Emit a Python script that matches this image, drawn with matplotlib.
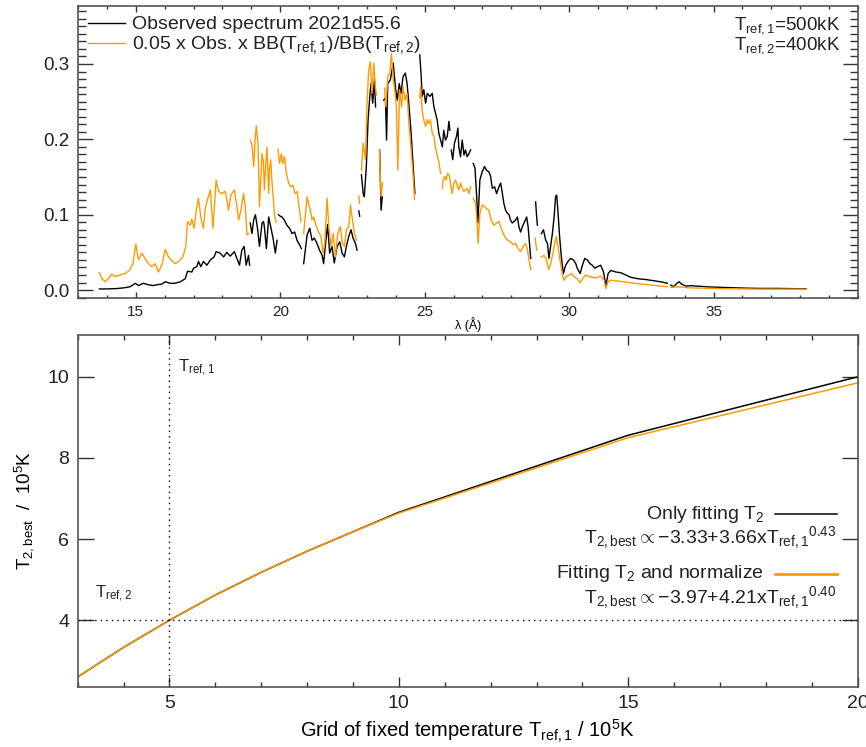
import numpy as np
import matplotlib
matplotlib.use("Agg")
import matplotlib.pyplot as plt
from matplotlib.ticker import MultipleLocator, FormatStrFormatter

nan = np.nan

# Observed spectrum (nan = gap between data chunks)
obs_wave = [13.74, 14.0, 14.34, 14.6, 14.8, 14.99, 15.09, 15.26, 15.44, 15.6, 15.73, 15.9, 16.02, 16.19, 16.35,
            16.54, 16.71, 16.79, 16.94, 17.0, 17.11, 17.17, 17.25, 17.34, 17.46, 17.58, 17.71, 17.78, 17.92, 18.04,
            18.15, 18.27, 18.41, 18.5, 18.59, 18.67, 18.75, 18.82, 18.9, 18.94, nan,
            18.96, 19.02, 19.08, 19.14, 19.22, 19.28, 19.37, 19.42, 19.45, 19.52, 19.6, 19.66, 19.75, 19.83, 19.89, nan,
            19.94, 20.0, 20.06, 20.14, 20.23, 20.32, 20.41, 20.5, 20.58, 20.67, 20.73, nan,
            20.81, 20.93, 21.02, 21.1, 21.18, 21.27, 21.36, 21.45, 21.5, 21.58, 21.64, 21.71, 21.79, 21.87, 21.97,
            22.06, 22.14, 22.22, 22.29, 22.37, 22.45, 22.52, 22.6, 22.66, nan,
            22.72, 22.75, nan,
            22.81, 22.87, 22.91, 22.98, 23.04, 23.1, 23.14, 23.2, 23.26, 23.3, nan,
            23.44, 23.49, 23.53, nan,
            23.58, 23.64, 23.68, 23.72, 23.81, 23.91, 23.99, 24.05, 24.12, 24.18, 24.25, 24.33, 24.39, 24.45, 24.53,
            24.6, 24.66, nan,
            24.83, 24.88, 24.91, 24.97, 25.03, 25.09, 25.18, 25.26, 25.32, 25.37, 25.43, 25.49, 25.55, 25.61, 25.66,
            25.72, 25.78, 25.84, 25.87, nan,
            25.92, 25.97, 26.03, 26.1, 26.15, 26.18, 26.24, 26.3, 26.36, 26.41, 26.47, 26.53, 26.59, nan,
            26.68, 26.74, 26.8, 26.84, 26.91, 26.99, 27.07, 27.14, 27.22, 27.28, 27.34, 27.42, 27.49, 27.57, 27.63,
            27.69, 27.74, 27.8, 27.86, 27.92, 27.97, 28.03, 28.09, 28.15, 28.21, 28.26, 28.32, 28.38, 28.46, 28.53,
            28.58, 28.62, 28.67, nan,
            28.84, 28.87, 28.9, nan,
            29.04, 29.11, 29.19, 29.25, 29.3, 29.36, 29.42, 29.48, 29.53, 29.57, 29.61, 29.67, 29.73, 29.8, 29.88,
            29.96, 30.05, 30.15, 30.23, 30.28, 30.38, 30.46, 30.54, 30.63, 30.72, 30.8, 30.89, 30.98, 31.09, 31.19,
            31.27, 31.35, 31.44, 31.61, 31.79, 31.96, 32.13, 32.31, 32.48, 32.65, 32.83, 33.0, 33.17, 33.4, nan,
            33.52, 33.61, 33.73, 33.81, 33.89, 34.04, 34.21, 34.56, 34.91, 35.37, 35.95, 36.52, 37.22, 37.91, 38.2]
obs_flux = [0.0015, 0.0015, 0.002, 0.003, 0.0044, 0.009, 0.006, 0.009, 0.007, 0.006, 0.007, 0.008, 0.011, 0.009, 0.009,
            0.011, 0.015, 0.025, 0.024, 0.029, 0.031, 0.038, 0.031, 0.038, 0.033, 0.04, 0.044, 0.051, 0.049, 0.044,
            0.05, 0.045, 0.051, 0.042, 0.033, 0.053, 0.058, 0.033, 0.046, 0.033, nan,
            0.089, 0.075, 0.093, 0.1, 0.08, 0.058, 0.089, 0.091, 0.084, 0.055, 0.097, 0.086, 0.069, 0.049, 0.066, nan,
            0.1, 0.098, 0.097, 0.093, 0.086, 0.082, 0.075, 0.077, 0.066, 0.06, 0.055, nan,
            0.035, 0.073, 0.082, 0.066, 0.069, 0.062, 0.053, 0.046, 0.035, 0.066, 0.087, 0.049, 0.058, 0.036, 0.058,
            0.064, 0.049, 0.044, 0.058, 0.071, 0.08, 0.069, 0.062, 0.053, nan,
            0.105, 0.098, nan,
            0.153, 0.128, 0.124, 0.164, 0.226, 0.257, 0.274, 0.248, 0.279, 0.243, nan,
            0.186, 0.106, 0.124, nan,
            0.252, 0.255, 0.199, 0.274, 0.279, 0.301, 0.268, 0.252, 0.274, 0.261, 0.283, 0.288, 0.274, 0.248, 0.208,
            0.164, 0.128, nan,
            0.312, 0.283, 0.257, 0.266, 0.248, 0.261, 0.257, 0.261, 0.243, 0.235, 0.226, 0.208, 0.199, 0.19, 0.212,
            0.199, 0.204, 0.224, 0.212, nan,
            0.186, 0.173, 0.195, 0.204, 0.215, 0.19, 0.177, 0.199, 0.179, 0.186, 0.177, 0.181, 0.186, nan,
            0.168, 0.162, 0.124, 0.089, 0.146, 0.157, 0.164, 0.159, 0.157, 0.151, 0.135, 0.137, 0.128, 0.137, 0.142,
            0.128, 0.115, 0.106, 0.102, 0.1, 0.093, 0.089, 0.091, 0.093, 0.097, 0.084, 0.077, 0.084, 0.091, 0.097,
            0.084, 0.066, 0.042, nan,
            0.117, 0.1, 0.086, nan,
            0.075, 0.08, 0.066, 0.062, 0.042, 0.058, 0.075, 0.097, 0.124, 0.126, 0.106, 0.071, 0.044, 0.022, 0.033,
            0.038, 0.042, 0.04, 0.035, 0.029, 0.022, 0.033, 0.042, 0.04, 0.035, 0.033, 0.029, 0.031, 0.033, 0.024,
            0.006, 0.022, 0.026, 0.024, 0.023, 0.02, 0.017, 0.0155, 0.0146, 0.014, 0.013, 0.012, 0.011, 0.009, nan,
            0.0066, 0.0044, 0.009, 0.011, 0.008, 0.0053, 0.0058, 0.0049, 0.004, 0.0035, 0.0027, 0.0022, 0.0022, 0.0018,
            0.0018]

# 0.05 x Obs. x BB(Tref,1)/BB(Tref,2)
bb_wave = [13.74, 13.82, 13.94, 14.05, 14.17, 14.28, 14.46, 14.63, 14.8, 14.9, 15.0, 15.09, 15.21, 15.32, 15.44,
           15.55, 15.67, 15.78, 15.9, 16.02, 16.13, 16.25, 16.36, 16.48, 16.63, 16.73, 16.79, 16.88, 16.94, 17.02,
           17.09, 17.17, 17.25, 17.34, 17.4, 17.48, 17.58, 17.67, 17.78, 17.86, 17.98, 18.1, 18.21, 18.29, 18.41,
           18.5, 18.56, 18.64, 18.73, 18.79, 18.85, 18.9, nan,
           18.96, 19.02, 19.08, 19.14, 19.17, 19.23, 19.28, 19.33, 19.37, 19.42, 19.45, 19.5, 19.54, 19.6, 19.63,
           19.67, 19.71, 19.76, 19.8, 19.86, nan,
           19.92, 19.98, 20.04, 20.09, 20.15, 20.21, 20.29, 20.37, 20.44, 20.51, 20.58, 20.65, 20.72, nan,
           20.81, 20.87, 20.93, 20.98, 21.04, 21.1, 21.16, 21.25, 21.33, 21.41, 21.48, 21.54, 21.62, 21.68, 21.76,
           21.83, 21.91, 21.99, 22.08, 22.15, 22.22, 22.29, 22.37, 22.43, 22.5, 22.57, 22.64, nan,
           22.72, 22.75, nan,
           22.81, 22.87, 22.95, 23.0, 23.06, 23.12, 23.17, 23.24, 23.29, 23.33, nan,
           23.43, 23.49, 23.54, nan,
           23.61, 23.66, 23.72, 23.79, 23.85, 23.91, 23.95, 24.02, 24.07, 24.13, 24.2, 24.25, 24.32, 24.39, 24.46,
           24.53, 24.6, 24.65, nan,
           24.83, 24.86, 24.91, 24.97, 25.03, 25.09, 25.14, 25.2, 25.26, 25.32, 25.37, 25.43, 25.49, 25.55, nan,
           25.61, 25.64, 25.69, 25.74, 25.8, 25.86, 25.89, 25.95, 26.01, 26.07, 26.12, 26.18, 26.24, 26.3, 26.36,
           26.41, 26.47, 26.53, 26.59, nan,
           26.68, 26.76, 26.82, 26.85, 26.91, 26.99, 27.07, 27.14, 27.22, 27.3, 27.4, 27.49, 27.57, 27.63, 27.72,
           27.8, 27.88, 27.97, 28.07, 28.15, 28.23, 28.32, 28.41, 28.49, 28.55, 28.61, 28.67, nan,
           28.82, 28.88, nan,
           29.04, 29.13, 29.22, 29.29, 29.36, 29.44, 29.5, 29.56, 29.61, 29.68, 29.76, 29.82, 29.9, 30.0, 30.08,
           30.17, 30.28, 30.38, 30.46, 30.57, 30.69, 30.8, 30.92, 31.09, 31.21, 31.27, 31.35, 31.44, 31.79, 32.13,
           32.48, 32.83, 33.17, 33.4, nan,
           33.52, 33.75, 34.1, 34.79, 35.6, 36.52, 37.45, 38.2]
bb_flux = [0.023, 0.0155, 0.011, 0.0155, 0.021, 0.018, 0.02, 0.022, 0.027, 0.035, 0.061, 0.04, 0.049, 0.042, 0.035,
           0.031, 0.035, 0.024, 0.033, 0.054, 0.044, 0.039, 0.035, 0.038, 0.044, 0.058, 0.091, 0.086, 0.094, 0.082,
           0.106, 0.122, 0.097, 0.082, 0.108, 0.12, 0.133, 0.082, 0.146, 0.131, 0.128, 0.131, 0.106, 0.126, 0.133,
           0.111, 0.093, 0.106, 0.128, 0.111, 0.073, 0.075, nan,
           0.199, 0.193, 0.164, 0.206, 0.218, 0.195, 0.111, 0.151, 0.181, 0.17, 0.133, 0.168, 0.19, 0.128, 0.162,
           0.173, 0.146, 0.12, 0.1, 0.09, nan,
           0.187, 0.168, 0.181, 0.168, 0.177, 0.155, 0.142, 0.137, 0.139, 0.128, 0.131, 0.111, 0.091, nan,
           0.075, 0.1, 0.124, 0.115, 0.106, 0.093, 0.097, 0.084, 0.077, 0.071, 0.049, 0.062, 0.122, 0.084, 0.058,
           0.075, 0.044, 0.075, 0.084, 0.062, 0.058, 0.08, 0.084, 0.113, 0.093, 0.075, 0.066, nan,
           0.125, 0.115, nan,
           0.159, 0.195, 0.173, 0.243, 0.292, 0.303, 0.261, 0.301, 0.27, 0.259, nan,
           0.186, 0.124, 0.142, nan,
           0.268, 0.243, 0.283, 0.288, 0.314, 0.279, 0.27, 0.243, 0.159, 0.266, 0.243, 0.27, 0.252, 0.261, 0.217,
           0.186, 0.151, 0.12, nan,
           0.255, 0.27, 0.239, 0.226, 0.217, 0.226, 0.221, 0.226, 0.208, 0.204, 0.19, 0.179, 0.17, 0.155, nan,
           0.135, 0.146, 0.151, 0.146, 0.155, 0.151, 0.142, 0.128, 0.142, 0.146, 0.139, 0.133, 0.142, 0.135, 0.131,
           0.133, 0.135, 0.128, 0.137, nan,
           0.122, 0.115, 0.084, 0.062, 0.102, 0.113, 0.111, 0.108, 0.106, 0.093, 0.086, 0.089, 0.091, 0.084, 0.075,
           0.069, 0.066, 0.064, 0.06, 0.062, 0.055, 0.051, 0.058, 0.062, 0.055, 0.04, 0.027, nan,
           0.069, 0.053, nan,
           0.044, 0.046, 0.04, 0.027, 0.035, 0.049, 0.062, 0.071, 0.058, 0.04, 0.022, 0.013, 0.018, 0.02, 0.022,
           0.018, 0.015, 0.0097, 0.015, 0.02, 0.018, 0.017, 0.016, 0.0186, 0.013, 0.002, 0.011, 0.013, 0.0115, 0.0097,
           0.008, 0.0066, 0.0053, 0.0044, nan,
           0.0035, 0.0044, 0.0031, 0.0022, 0.0018, 0.0013, 0.0013, 0.0013]

# Best-fit T2 versus fixed Tref,1 (units of 1e5 K)
t_ref1_grid = [3, 4, 5, 6, 7, 8, 9, 10, 15, 20]
t2_only = [2.60, 3.33, 4.00, 4.62, 5.18, 5.70, 6.18, 6.66, 8.56, 10.00]
t2_norm = [2.60, 3.33, 4.00, 4.62, 5.18, 5.70, 6.18, 6.64, 8.50, 9.85]
t_ref1, t_ref2 = 5.0, 4.0

orange = "#ff9a00"
frame = "#555555"

plt.rcParams["font.family"] = ["Liberation Sans", "DejaVu Sans"]
plt.rcParams["mathtext.fontset"] = "custom"
plt.rcParams["mathtext.rm"] = "Liberation Sans"
plt.rcParams["mathtext.it"] = "Liberation Sans:italic"
plt.rcParams["text.color"] = "#222222"

fig = plt.figure(figsize=(8.66, 7.47), dpi=100)
ax1 = fig.add_axes([0.0901, 0.6011, 0.9007, 0.3909])
ax2 = fig.add_axes([0.0897, 0.0807, 0.9007, 0.4708])


def idl_frame(ax, xmaj, ymaj):
    for s in ax.spines.values():
        s.set_color(frame)
        s.set_linewidth(1.2)
    ax.tick_params(which="both", direction="in", top=True, right=True,
                   colors="#333333", labelcolor="#222222", width=1.0)
    ax.tick_params(axis="x", which="major", length=xmaj, pad=6)
    ax.tick_params(axis="y", which="major", length=ymaj, pad=6)


# ---- top panel: spectrum
ax1.plot(obs_wave, obs_flux, color="black", lw=1.0)
ax1.plot(bb_wave, bb_flux, color=orange, lw=1.0)
ax1.set_xlim(13, 40)
ax1.set_ylim(-0.0105, 0.377)
ax1.set_xticks([15, 20, 25, 30, 35])
ax1.xaxis.set_minor_locator(MultipleLocator(1))
ax1.yaxis.set_major_locator(MultipleLocator(0.1))
ax1.yaxis.set_minor_locator(MultipleLocator(0.01))
ax1.yaxis.set_major_formatter(FormatStrFormatter("%.1f"))
idl_frame(ax1, 4, 11)
ax1.tick_params(axis="x", which="minor", length=2)
ax1.tick_params(axis="y", which="minor", length=5.5)
ax1.tick_params(axis="y", labelsize=13.5)
ax1.tick_params(axis="x", labelsize=11, pad=5)
ax1.set_xlabel("λ (Å)", fontsize=9)
ax1.xaxis.set_label_coords(0.5, -0.065)

ax1.plot([0.0128, 0.0603], [0.942, 0.942], transform=ax1.transAxes, color="black", lw=1.0)
ax1.plot([0.0128, 0.0603], [0.873, 0.873], transform=ax1.transAxes, color=orange, lw=1.0)
ax1.text(0.0688, 0.920, "Observed spectrum 2021d55.6", transform=ax1.transAxes, fontsize=14, va="baseline")
ax1.text(0.0688, 0.852, r"0.05 x Obs. x BB(T$_{\rm ref,1}$)/BB(T$_{\rm ref,2}$)",
         transform=ax1.transAxes, fontsize=14, va="baseline")
ax1.text(0.977, 0.920, r"T$_{\rm ref,1}$=500kK", transform=ax1.transAxes, fontsize=13.5,
         ha="right", va="baseline")
ax1.text(0.977, 0.852, r"T$_{\rm ref,2}$=400kK", transform=ax1.transAxes, fontsize=13.5,
         ha="right", va="baseline")

# ---- bottom panel: best T2
ax2.plot(t_ref1_grid, t2_only, color="black", lw=1.1)
ax2.plot(t_ref1_grid, t2_norm, color=orange, lw=1.1)
ax2.axhline(t_ref2, color="black", lw=1.0, ls=(0, (1, 3)))
ax2.axvline(t_ref1, color="black", lw=1.0, ls=(0, (1, 3)))
ax2.set_xlim(3, 20)
ax2.set_ylim(2.36, 11.03)
ax2.xaxis.set_major_locator(MultipleLocator(5))
ax2.xaxis.set_minor_locator(MultipleLocator(1))
ax2.yaxis.set_major_locator(MultipleLocator(2))
idl_frame(ax2, 7, 11.5)
ax2.tick_params(axis="x", which="minor", length=3.5)
ax2.tick_params(labelsize=14)
ax2.set_xlabel(r"Grid of fixed temperature T$_{\rm ref,1}$ / 10$^{5}$K", fontsize=14.5, labelpad=4)
ax2.set_ylabel(r"T$_{\rm 2,best}$  /  10$^{5}$K", fontsize=13.5, labelpad=8)

ax2.text(t_ref1 + 0.19, 10.12, r"T$_{\rm ref,1}$", fontsize=12, va="baseline")
ax2.text(3.38, 4.54, r"T$_{\rm ref,2}$", fontsize=12, va="baseline")

ax2.plot([0.894, 0.973], [0.492, 0.492], transform=ax2.transAxes, color="black", lw=1.1)
ax2.plot([0.894, 0.973], [0.320, 0.320], transform=ax2.transAxes, color=orange, lw=2.0)
ax2.text(0.880, 0.478, r"Only fitting T$_2$", transform=ax2.transAxes, fontsize=14,
         ha="right", va="baseline")
ax2.text(0.973, 0.408, r"T$_{\rm 2,best}$$\propto$$-$3.33+3.66xT$_{\rm ref,1}$$^{\rm 0.43}$",
         transform=ax2.transAxes, fontsize=14, ha="right", va="baseline")
ax2.text(0.880, 0.309, r"Fitting T$_2$ and normalize", transform=ax2.transAxes, fontsize=14,
         ha="right", va="baseline")
ax2.text(0.973, 0.238, r"T$_{\rm 2,best}$$\propto$$-$3.97+4.21xT$_{\rm ref,1}$$^{\rm 0.40}$",
         transform=ax2.transAxes, fontsize=14, ha="right", va="baseline")

fig.savefig("out.png", dpi=100)
